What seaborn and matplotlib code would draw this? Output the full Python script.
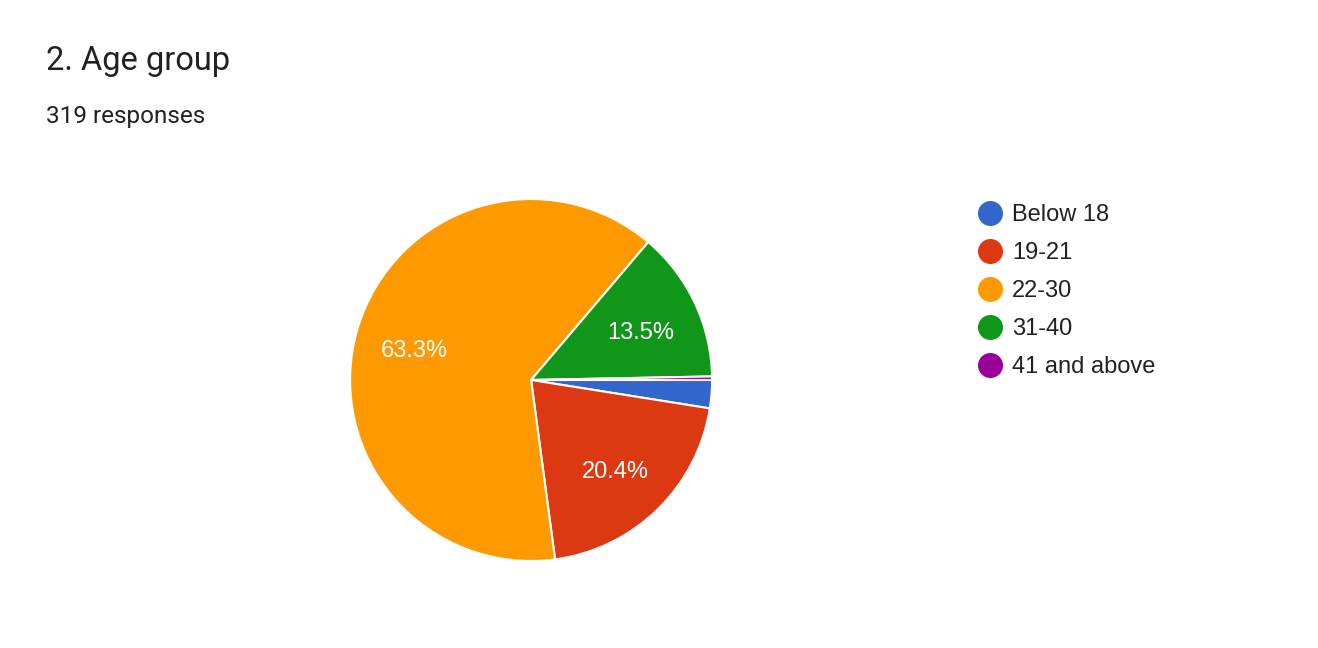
import matplotlib
matplotlib.use("Agg")
import matplotlib.pyplot as plt
from matplotlib.lines import Line2D
import matplotlib.transforms as mtransforms
import seaborn as sns

categories = ["Below 18", "19-21", "22-30", "31-40", "41 and above"]
counts = [8, 65, 202, 43, 1]
colors = ["#3366CC", "#DC3912", "#FF9900", "#109618", "#990099"]
title = "2. Age group"
subtitle = "319 responses"

sns.set_theme(style="white")
plt.rcParams['font.family'] = ['Liberation Sans', 'DejaVu Sans']
palette = sns.color_palette(colors)

fig = plt.figure(figsize=(13.18, 6.48), dpi=100)
fig.patch.set_facecolor("white")
ax = fig.add_axes([0.2656, 0.1343, 0.2747, 0.5586])

def fmt(p):
    return f"{p:.1f}%" if p > 5 else ""

wedges, texts, autotexts = ax.pie(
    counts, colors=palette, startangle=0, counterclock=False,
    autopct=fmt, pctdistance=0.67,
    wedgeprops=dict(edgecolor="white", linewidth=1.5),
    textprops=dict(color="white", fontsize=17),
)
shift = mtransforms.offset_copy(ax.transData, fig=fig, x=0, y=-3, units="dots")
for t in autotexts:
    t.set_va("center_baseline")
    t.set_transform(shift)
ax.set_aspect("equal")
ax.set_xlim(-1, 1)
ax.set_ylim(-1, 1)
ax.axis("off")

fig.text(46/1318, 1 - 61/648, title, fontsize=23.5, color="#202124",
         family=["Roboto", "DejaVu Sans"], va="center", ha="left")
fig.text(46/1318, 1 - 116/648, subtitle, fontsize=17.5, color="#202124",
         family=["Roboto", "DejaVu Sans"], va="center", ha="left")

handles = [Line2D([0], [0], marker="o", linestyle="", markersize=17,
                  markerfacecolor=c, markeredgecolor=c) for c in palette]
leg = fig.legend(handles, categories, loc="upper left",
                 bbox_to_anchor=(977/1318, 1 - 204/648), frameon=False,
                 fontsize=17, labelspacing=0.68, handletextpad=0.38,
                 handlelength=1.1, borderaxespad=0, borderpad=0)
for t in leg.get_texts():
    t.set_color("#202124")

fig.savefig("out.png", dpi=100, facecolor="white")
